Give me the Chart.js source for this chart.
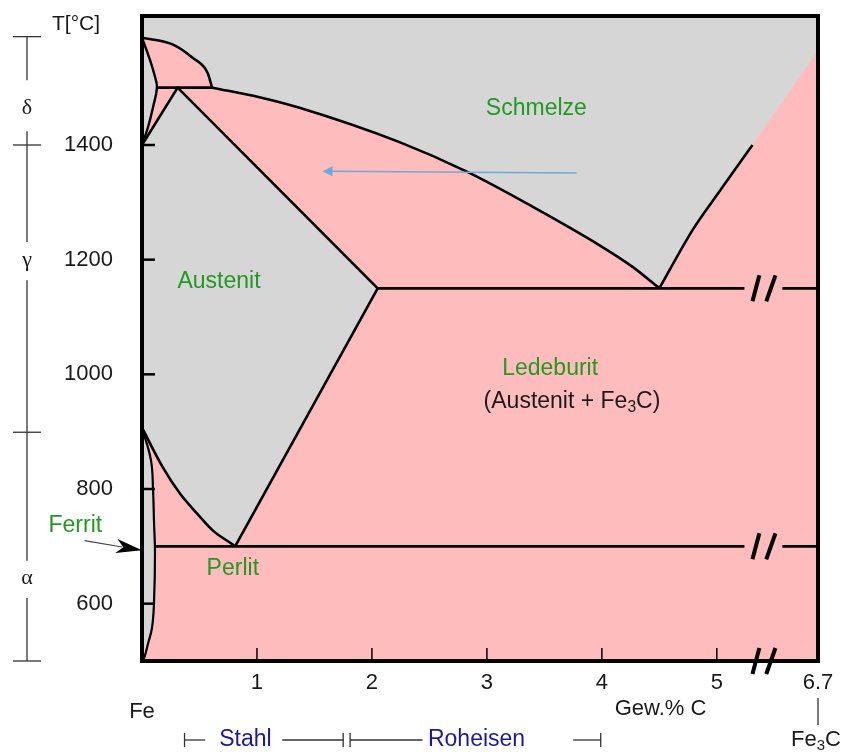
<!DOCTYPE html>
<html>
<head>
<meta charset="utf-8">
<title>Eisen-Kohlenstoff-Diagramm</title>
<script src="https://cdn.jsdelivr.net/npm/chart.js@4.4.0/dist/chart.umd.min.js"></script>
<style>
  html, body { margin: 0; padding: 0; background: #fff; }
  canvas { display: block; }
</style>
</head>
<body>
<canvas id="chart" width="844" height="752"></canvas>
<script>
const FONT = '"Liberation Sans", Arial, sans-serif';
const SERIF = '"Liberation Serif", "Times New Roman", serif';
const PINK = '#ffbcbc';
const GREY = '#d6d6d6';
const GREEN = '#229922';
const NAVY = '#1a1a9a';
const INK = '#1a1a1a';

// axes (x axis is broken: its right edge stands for 6.7 % C = Fe3C)
const X_MAX = 5.88;
const T_MIN = 500, T_MAX = 1625;
const xTicks = [1, 2, 3, 4, 5, X_MAX];
const xTickLabels = ['1', '2', '3', '4', '5', '6.7'];
const yTicks = [600, 800, 1000, 1200, 1400];

// phase boundaries, [Gew.% C, °C]
const liquidusDelta = [[0, 1587], [0.27, 1575], [0.44, 1552], [0.57, 1526], [0.61, 1500]];
const liquidusGamma = [[0.61, 1500], [1.03, 1483], [1.37, 1465], [2.24, 1405], [2.83, 1353], [3.40, 1292], [3.98, 1225], [4.27, 1187], [4.50, 1150]];
const liquidusFe3C = [[4.50, 1150], [4.79, 1252], [5.03, 1321], [5.31, 1400]];
const liquidusEnd = [[5.31, 1400], [X_MAX, 1565]];
const deltaLens = [[0, 1587], [0.07, 1548], [0.113, 1519], [0.13, 1500], [0.096, 1466], [0.052, 1431], [0, 1400]];
const peritectic = [[0.13, 1500], [0.61, 1500]];
const gammaEdge = [[0, 1400], [0.31, 1500], [2.05, 1150], [0.81, 700]];
const a3Line = [[0, 907], [0.18, 838], [0.33, 792], [0.48, 757], [0.62, 727], [0.79, 703], [0.81, 700]];
const alphaLens = [[0, 907], [0.078, 850], [0.096, 799], [0.104, 745], [0.113, 687], [0.104, 600], [0.087, 558], [0.052, 530], [0.017, 504], [0, 500]];
const eutectic = [[2.05, 1150], [5.24, 1150]];
const eutecticEnd = [[5.57, 1150], [X_MAX, 1150]];
const eutectoid = [[0.12, 700], [5.24, 700]];
const eutectoidEnd = [[5.57, 700], [X_MAX, 700]];

// axis break marks "//"
const breakStrokes = [[5.31, 5.37], [5.43, 5.51]];
const breakLevels = [1150, 700, T_MIN];

// texts
const phaseLabels = [
  ['Schmelze', 3.43, 1464],
  ['Austenit', 0.67, 1162],
  ['Ledeburit', 3.55, 1010],
  ['Perlit', 0.79, 661],
  ['Ferrit', -0.58, 736]
];
const mixLabel = { x: 3.74, t: 953 };
const meltArrow = { from: [3.78, 1351], to: [1.57, 1354] };
const ferritArrow = { from: [-0.50, 710], to: [0, 693] };

// left phase bar (δ, γ, α)
const barSegments = [[1589, 1513], [1424, 1231], [1164, 675], [610, 500]];
const barCaps = [1589, 1400, 899, 500];
const barLabels = [['δ', 1465], ['γ', 1199], ['α', 644]];

// Stahl / Roheisen ranges under the axis
const rangeSegments = [[0.37, 0.55], [1.22, 1.75], [1.81, 2.44], [3.75, 3.99]];
const rangeBars = [0.37, 1.75, 1.81, 3.99];
const rangeLabels = [['Stahl', 0.90], ['Roheisen', 2.91]];

const pts = arr => arr.map(([x, y]) => ({ x, y }));

const liquidRegion = [[-0.1, 1700], [-0.1, 1587]].concat(liquidusDelta, liquidusGamma, liquidusFe3C, liquidusEnd, [[6.1, 1700]]);
const gammaRegion = gammaEdge.concat(a3Line.slice().reverse());

function area(arr, opts) {
  return Object.assign({
    data: pts(arr), showLine: true, pointRadius: 0, fill: 'shape',
    backgroundColor: GREY, borderWidth: 0, borderColor: 'rgba(0,0,0,0)', tension: 0, order: 10
  }, opts);
}
function line(arr, opts) {
  return Object.assign({
    data: pts(arr), showLine: true, pointRadius: 0, fill: false,
    borderColor: '#000', borderWidth: 2.6, borderJoinStyle: 'round', tension: 0, order: 1
  }, opts);
}
const smooth = { cubicInterpolationMode: 'monotone' };

const datasets = [
  area(liquidRegion),
  area(gammaRegion),
  area(deltaLens, { borderWidth: 2.4, borderColor: '#000', tension: 0.4, order: 5 }),
  area(alphaLens, { borderWidth: 2.2, borderColor: '#000', tension: 0.4, order: 5 }),
  line(liquidusDelta, smooth),
  line(liquidusGamma, smooth),
  line(liquidusFe3C, smooth),
  line(peritectic),
  line(gammaEdge),
  line(a3Line, smooth),
  line(eutectic),
  line(eutecticEnd),
  line(eutectoid),
  line(eutectoidEnd)
];

function richText(ctx, parts, cx, cy, size, color) {
  ctx.fillStyle = color;
  ctx.textAlign = 'left';
  ctx.textBaseline = 'middle';
  const widths = parts.map(([t, sub]) => {
    ctx.font = (sub ? size * 0.68 : size) + 'px ' + FONT;
    return ctx.measureText(t).width;
  });
  let xx = cx - widths.reduce((s, w) => s + w, 0) / 2;
  parts.forEach(([t, sub], i) => {
    ctx.font = (sub ? size * 0.68 : size) + 'px ' + FONT;
    ctx.fillText(t, xx, sub ? cy + size * 0.28 : cy);
    xx += widths[i];
  });
}

function seg(ctx, x0, y0, x1, y1) {
  ctx.beginPath();
  ctx.moveTo(x0, y0);
  ctx.lineTo(x1, y1);
  ctx.stroke();
}

const bgPlugin = {
  id: 'bg',
  beforeDraw(chart) {
    const { ctx, chartArea: a } = chart;
    ctx.save();
    ctx.fillStyle = '#fff';
    ctx.fillRect(0, 0, chart.width, chart.height);
    ctx.fillStyle = PINK;
    ctx.fillRect(a.left, a.top, a.right - a.left, a.bottom - a.top);
    ctx.restore();
  }
};

const decorPlugin = {
  id: 'decor',
  afterDatasetsDraw(chart) {
    const { ctx, chartArea: a, scales } = chart;
    const X = v => scales.x.getPixelForValue(v);
    const Y = v => scales.y.getPixelForValue(v);
    ctx.save();
    ctx.lineCap = 'butt';

    // frame
    ctx.strokeStyle = '#000';
    ctx.lineWidth = 4;
    ctx.strokeRect(a.left, a.top, a.right - a.left, a.bottom - a.top);

    // inward ticks
    ctx.lineWidth = 2.5;
    yTicks.forEach(t => seg(ctx, a.left, Y(t), a.left + 13, Y(t)));
    ctx.lineWidth = 1.5;
    xTicks.filter(v => v < X_MAX).forEach(v => seg(ctx, X(v), a.bottom, X(v), a.bottom - 13));

    // break marks
    ctx.lineWidth = 4;
    breakLevels.forEach(t => {
      breakStrokes.forEach(([x0, x1]) => seg(ctx, X(x0), Y(t) + 13, X(x1), Y(t) - 13));
    });

    // blue arrow in the melt
    const mf = meltArrow.from, mt = meltArrow.to;
    ctx.strokeStyle = '#6fa8dc';
    ctx.fillStyle = '#6fa8dc';
    ctx.lineWidth = 1.5;
    seg(ctx, X(mf[0]), Y(mf[1]), X(mt[0]) + 8, Y(mt[1]));
    ctx.beginPath();
    ctx.moveTo(X(mt[0]), Y(mt[1]));
    ctx.lineTo(X(mt[0]) + 10, Y(mt[1]) - 5);
    ctx.lineTo(X(mt[0]) + 10, Y(mt[1]) + 5);
    ctx.closePath();
    ctx.fill();

    // Ferrit arrow
    const ff = ferritArrow.from, ft = ferritArrow.to;
    const fx0 = X(ff[0]), fy0 = Y(ff[1]), fx1 = X(ft[0]), fy1 = Y(ft[1]);
    const ang = Math.atan2(fy1 - fy0, fx1 - fx0);
    ctx.strokeStyle = '#444';
    ctx.lineWidth = 1.2;
    seg(ctx, fx0, fy0, fx1 - 20 * Math.cos(ang), fy1 - 20 * Math.sin(ang));
    ctx.fillStyle = '#000';
    ctx.save();
    ctx.translate(fx1, fy1);
    ctx.rotate(ang);
    ctx.beginPath();
    ctx.moveTo(0, 0);
    ctx.lineTo(-26, -7);
    ctx.lineTo(-19, 0);
    ctx.lineTo(-26, 7);
    ctx.closePath();
    ctx.fill();
    ctx.restore();

    // phase labels
    ctx.textAlign = 'center';
    ctx.textBaseline = 'middle';
    ctx.font = '23px ' + FONT;
    ctx.fillStyle = GREEN;
    phaseLabels.forEach(([txt, xv, tv]) => ctx.fillText(txt, X(xv), Y(tv)));
    richText(ctx, [['(Austenit + Fe', false], ['3', true], ['C)', false]], X(mixLabel.x), Y(mixLabel.t), 23, INK);

    // axis titles
    ctx.textAlign = 'center';
    ctx.fillStyle = INK;
    ctx.font = '21px ' + FONT;
    ctx.fillText('T[°C]', 76, a.top + 8);
    ctx.font = '22px ' + FONT;
    ctx.fillText('Fe', X(0), a.bottom + 51);
    ctx.fillText('Gew.% C', X(4.51), a.bottom + 48);
    ctx.strokeStyle = '#333';
    ctx.lineWidth = 1.3;
    seg(ctx, X(X_MAX), a.bottom + 37, X(X_MAX), a.bottom + 64);
    richText(ctx, [['Fe', false], ['3', true], ['C', false]], X(X_MAX) - 2, a.bottom + 79, 22, INK);

    // left phase bar
    const bx = 27;
    ctx.strokeStyle = '#333';
    ctx.lineWidth = 1.3;
    barSegments.forEach(([t0, t1]) => seg(ctx, bx, Y(t0), bx, Y(t1)));
    barCaps.forEach(t => seg(ctx, bx - 14, Y(t), bx + 14, Y(t)));
    ctx.fillStyle = INK;
    ctx.textAlign = 'center';
    ctx.font = '22px ' + SERIF;
    barLabels.forEach(([txt, t]) => ctx.fillText(txt, bx, Y(t)));

    // Stahl / Roheisen ranges
    const ry = a.bottom + 79;
    rangeSegments.forEach(([x0, x1]) => seg(ctx, X(x0), ry, X(x1), ry));
    rangeBars.forEach(v => seg(ctx, X(v), ry - 7, X(v), ry + 7));
    ctx.fillStyle = NAVY;
    ctx.font = '23px ' + FONT;
    rangeLabels.forEach(([txt, v]) => ctx.fillText(txt, X(v), ry));

    ctx.restore();
  }
};

new Chart(document.getElementById('chart'), {
  type: 'scatter',
  data: { datasets },
  options: {
    responsive: false,
    animation: false,
    devicePixelRatio: 1,
    events: [],
    layout: { padding: { left: 0, right: 26, top: 16, bottom: 0 } },
    plugins: { legend: { display: false }, tooltip: { enabled: false } },
    scales: {
      x: {
        type: 'linear', min: 0, max: X_MAX,
        grid: { display: false, drawTicks: false },
        border: { display: false },
        afterBuildTicks: s => { s.ticks = xTicks.map(v => ({ value: v })); },
        afterFit: s => { s.height = 91; s.paddingLeft = 0; s.paddingRight = 0; },
        ticks: {
          padding: 9, color: INK, autoSkip: false, maxRotation: 0,
          font: { family: FONT, size: 22 },
          callback: (v, i) => xTickLabels[i]
        }
      },
      y: {
        type: 'linear', min: T_MIN, max: T_MAX,
        grid: { display: false, drawTicks: false },
        border: { display: false },
        afterBuildTicks: s => { s.ticks = yTicks.map(v => ({ value: v })); },
        afterFit: s => { s.width = 142; s.paddingTop = 0; s.paddingBottom = 0; },
        ticks: {
          padding: 29, color: INK,
          font: { family: FONT, size: 22 },
          callback: v => String(v)
        }
      }
    }
  },
  plugins: [bgPlugin, decorPlugin]
});
</script>
</body>
</html>
